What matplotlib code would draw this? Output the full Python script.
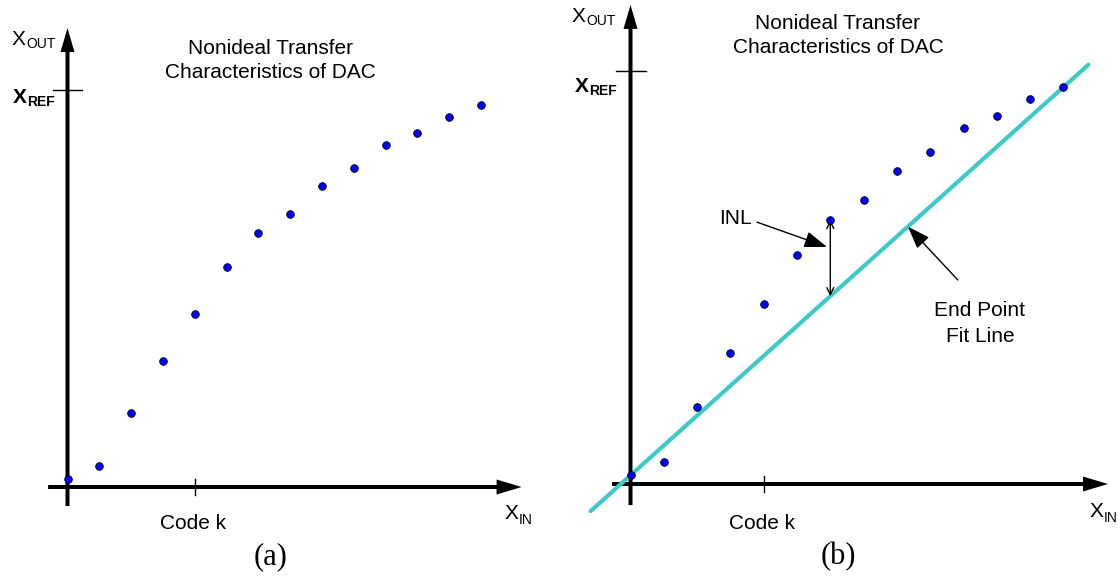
import matplotlib
matplotlib.use("Agg")
import matplotlib.pyplot as plt
from matplotlib.patches import FancyArrow

plt.rcParams['font.family'] = ['Liberation Sans', 'DejaVu Sans']

# DAC output levels (fraction of X_REF) for each input code
codes = [0, 1, 2, 3, 4, 5, 6, 7, 8, 9, 10, 11, 12, 13]
xout = [0.021, 0.054, 0.187, 0.318, 0.435, 0.554, 0.639,
        0.687, 0.759, 0.804, 0.861, 0.892, 0.933, 0.961]
xref = 1.0
code_k = 4
inl_code = 6
fit_line_codes = [-1.2, 13.75]

W, H = 1118, 579
CYAN = '#3FC9C9'
BLUE = '#0000FF'

# pixel layout of the two panels: origin, px per code, px per X_REF
panels = {
    'a': dict(x0=67.5, y0=487, sx=31.8, sy=397, left=0, right=559,
              xaxis=(-0.61, 14.28), yaxis=(-0.048, 1.156), ref_tick=(-0.46, 0.46),
              title_x=6.37, title_y=(1.091, 1.030),
              xout_lbl=(-1.745, 1.113), xref_lbl=(-1.71, 0.968),
              xin_lbl=(13.73, -0.08), codek_y=-0.106, tag_xy=(6.4, -0.195)),
    'b': dict(x0=630.5, y0=484, sx=33.3, sy=413, left=559, right=1118,
              xaxis=(-0.556, 14.34), yaxis=(-0.051, 1.16), ref_tick=(-0.435, 0.465),
              title_x=6.23, title_y=(1.102, 1.044),
              xout_lbl=(-1.757, 1.119), xref_lbl=(-1.67, 0.950),
              xin_lbl=(13.79, -0.08), codek_y=-0.108, tag_xy=(6.23, -0.194)),
}


def sub_label(ax, x, y, main, sub, weight='normal', drop=1.5):
    t = ax.text(x, y, main, fontsize=15, fontweight=weight, ha='left', va='baseline')
    ax.annotate(sub, xy=(1, 0), xycoords=t, xytext=(0.3, -drop),
                textcoords='offset points', fontsize=10, fontweight=weight,
                ha='left', va='bottom')


def draw_panel(fig, name):
    p = panels[name]
    sx, sy = p['sx'], p['sy']
    ax = fig.add_axes([p['left'] / W, 0, (p['right'] - p['left']) / W, 1])
    ax.set_xlim((p['left'] - p['x0']) / sx, (p['right'] - p['x0']) / sx)
    ax.set_ylim((p['y0'] - H) / sy, p['y0'] / sy)
    ax.axis('off')

    # axes with arrow heads
    x1, x2 = p['xaxis']
    ax.add_patch(FancyArrow(x1, 0, x2 - x1, 0, width=4 / sy, head_width=15 / sy,
                            head_length=25 / sx, length_includes_head=True,
                            color='black', lw=0))
    y1, y2 = p['yaxis']
    ax.add_patch(FancyArrow(0, y1, 0, y2 - y1, width=4 / sx, head_width=14 / sx,
                            head_length=24 / sy, length_includes_head=True,
                            color='black', lw=0))

    # small ticks
    ax.plot(p['ref_tick'], [xref, xref], color='black', lw=1)
    ax.plot([code_k, code_k], [0.02, -0.02], color='black', lw=1)

    ax.text(p['title_x'], p['title_y'][0], 'Nonideal Transfer', fontsize=15,
            ha='center', va='baseline')
    ax.text(p['title_x'], p['title_y'][1], 'Characteristics of DAC', fontsize=15,
            ha='center', va='baseline')

    sub_label(ax, *p['xout_lbl'], 'X', 'OUT')
    sub_label(ax, *p['xref_lbl'], 'X', 'REF', weight='bold')
    sub_label(ax, *p['xin_lbl'], 'X', 'IN', drop=3)
    ax.text(code_k - 0.05, p['codek_y'], 'Code k', fontsize=15,
            ha='center', va='baseline')
    ax.text(*p['tag_xy'], '(' + name + ')', fontsize=22, family='Liberation Serif',
            ha='center', va='baseline')
    return ax


fig = plt.figure(figsize=(W / 100, H / 100), dpi=100)

ax_a = draw_panel(fig, 'a')
ax_a.plot(codes, xout, 'o', color=BLUE, ms=5.5, mec='black', mew=0.6, zorder=5)

ax_b = draw_panel(fig, 'b')
slope = (xout[-1] - xout[0]) / (codes[-1] - codes[0])
fit_y = [xout[0] + slope * (c - codes[0]) for c in fit_line_codes]
ax_b.plot(fit_line_codes, fit_y, color=CYAN, lw=3, solid_capstyle='round', zorder=3)
ax_b.plot(codes, xout, 'o', color=BLUE, ms=5.5, mec='black', mew=0.6, zorder=5)

# INL between the code's output and the end point fit line
fit_at_inl = xout[0] + slope * (inl_code - codes[0])
ax_b.annotate('', xy=(inl_code, xout[inl_code]), xytext=(inl_code, fit_at_inl),
              arrowprops=dict(arrowstyle='<->,head_length=0.5,head_width=0.25',
                              lw=1, color='black', shrinkA=0, shrinkB=0,
                              mutation_scale=10))
ax_b.text(3.14, 0.643, 'INL', fontsize=15, ha='center', va='center')
ax_b.annotate('', xy=(5.90, 0.574), xytext=(3.80, 0.634),
              arrowprops=dict(arrowstyle='-|>,head_length=0.7,head_width=0.25',
                              lw=1, color='black', shrinkA=0, shrinkB=0,
                              mutation_scale=20))

fit_at_label = xout[0] + slope * (8.33 - codes[0])
ax_b.annotate('', xy=(8.33, fit_at_label), xytext=(9.83, 0.494),
              arrowprops=dict(arrowstyle='-|>,head_length=0.7,head_width=0.25',
                              lw=1, color='black', shrinkA=0, shrinkB=0,
                              mutation_scale=20))
ax_b.text(10.49, 0.407, 'End Point', fontsize=15, ha='center', va='baseline')
ax_b.text(10.49, 0.343, 'Fit Line', fontsize=15, ha='center', va='baseline')

fig.savefig('out.png', dpi=100)
